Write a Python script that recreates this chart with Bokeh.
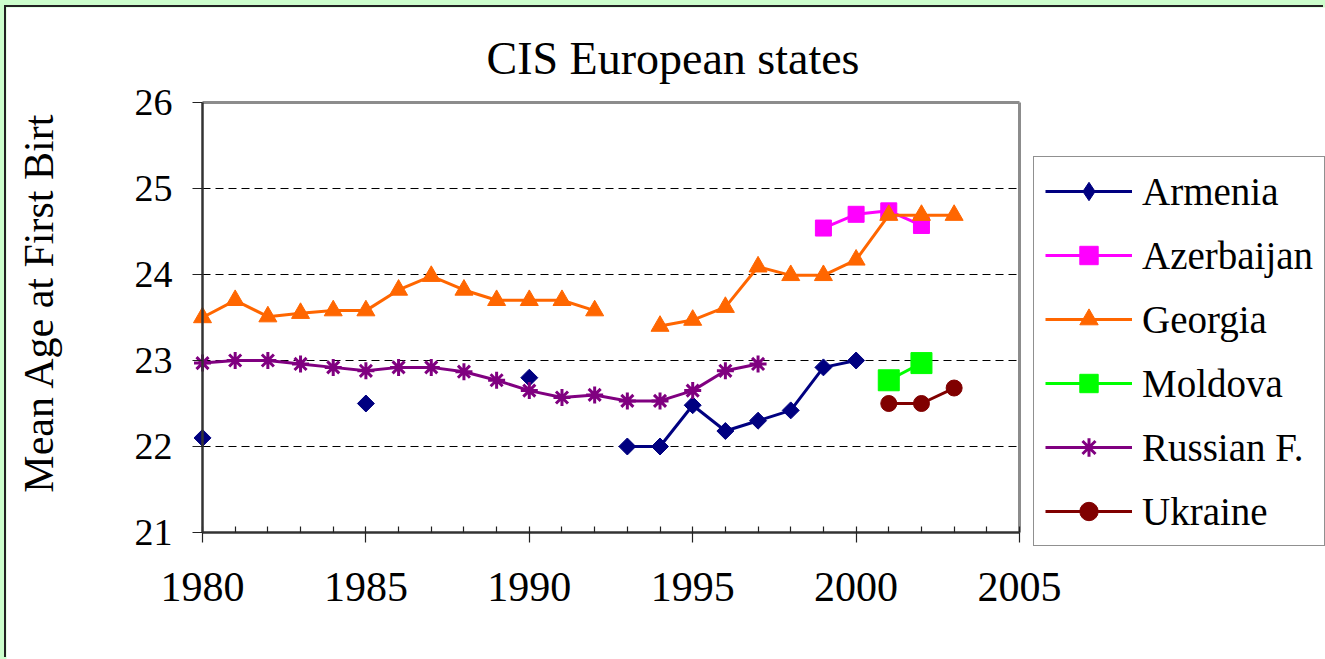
import math
from bokeh.plotting import figure
from bokeh.layouts import row
from bokeh.models import (Range1d, FixedTicker, Legend, LegendItem, ColumnDataSource,
                          LinearAxis, Label)
from bokeh.embed import file_html
from bokeh.resources import INLINE

nan = float("nan")

years = list(range(1980, 2004))
armenia = [22.1, nan, nan, nan, nan, 22.5, nan, nan, nan, nan, 22.8, nan, nan,
           22.0, 22.0, 22.48, 22.18, 22.3, 22.42, 22.92, 23.0, nan, nan, nan]
azerbaijan = [nan] * 19 + [24.54, 24.7, 24.74, 24.57, nan]
georgia = [23.5, 23.7, 23.51, 23.55, 23.58, 23.58, 23.82, 23.98, 23.82, 23.7, 23.7, 23.7, 23.58,
           nan, 23.4, 23.47, 23.62, 24.09, 23.99, 23.99, 24.17, 24.69, 24.69, 24.69]
moldova = [nan] * 21 + [22.77, 22.97, nan]
russia = [22.97, 23.0, 23.0, 22.96, 22.92, 22.88, 22.92, 22.92, 22.87, 22.77, 22.65, 22.57, 22.6,
          22.53, 22.53, 22.65, 22.88, 22.96, nan, nan, nan, nan, nan, nan]
ukraine = [nan] * 21 + [22.5, 22.5, 22.68]

series_names = ["Armenia", "Azerbaijan", "Georgia", "Moldova", "Russian F.", "Ukraine"]
series_values = [armenia, azerbaijan, georgia, moldova, russia, ukraine]
series_colors = ["#000080", "#FF00FF", "#FF6600", "#00FF00", "#800080", "#800000"]
series_markers = ["square", "square", "triangle", "square", "asterisk", "circle"]
series_sizes = [12, 16, 18, 21, 17, 16]
series_angles = [math.pi / 4, 0, 0, 0, 0, 0]

x_ticks = [1980, 1985, 1990, 1995, 2000, 2005]
x_minor = list(range(1980, 2006))
y_ticks = [21, 22, 23, 24, 25, 26]
grid_ticks = [22, 23, 24, 25]

TITLE = "CIS European states"
Y_TITLE = "Mean Age at First Birt"
FONT = "Liberation Serif"

# canvas geometry (pixels)
W, H = 1319, 652
X0_PX, X1_PX = 196, 1013      # where 1980 and 2005 fall
Y1_PX, Y0_PX = 95, 525        # where 26 and 21 fall
sx = (X1_PX - X0_PX) / (x_ticks[-1] - x_ticks[0])
sy = (Y0_PX - Y1_PX) / (y_ticks[-1] - y_ticks[0])

p = figure(width=W, height=H, output_backend="svg", toolbar_location=None,
           x_range=Range1d(x_ticks[0] - X0_PX / sx, x_ticks[0] + (W - X0_PX) / sx),
           y_range=Range1d(y_ticks[0] - (H - Y0_PX) / sy, y_ticks[-1] + Y1_PX / sy),
           min_border_left=0, min_border_right=0, min_border_top=0, min_border_bottom=0,
           border_fill_color="white", background_fill_color="white", outline_line_color=None)
p.margin = (7, 0, 0, 6)
p.styles = {"box-shadow": "-2px -2px 0 0 #222222"}
p.title.text = ""

# chart title
p.add_layout(Label(x=x_ticks[0] + (666.5 - X0_PX) / sx, y=y_ticks[-1] + (Y1_PX - 51) / sy,
                   text=TITLE, text_font=FONT, text_font_size="46px", text_color="black",
                   text_align="center", text_baseline="alphabetic"))

p.xgrid.visible = False
p.ygrid.visible = False

# dashed horizontal grid lines between the axes
p.segment(x0=[x_ticks[0]] * len(grid_ticks), x1=[x_ticks[-1]] * len(grid_ticks),
          y0=grid_ticks, y1=grid_ticks, line_color="black", line_width=1, line_dash="8 5")
# top and right frame borders
p.segment(x0=[x_ticks[0], x_ticks[-1]], x1=[x_ticks[-1], x_ticks[-1]],
          y0=[y_ticks[-1], y_ticks[0]], y1=[y_ticks[-1], y_ticks[-1]],
          line_color="#8c8c8c", line_width=3)

# x axis
xa = p.xaxis[0]
xa.fixed_location = y_ticks[0]
xa.bounds = (x_ticks[0], x_ticks[-1])
xa.ticker = FixedTicker(ticks=x_ticks, minor_ticks=x_minor)
xa.axis_line_color = "#333333"
xa.axis_line_width = 2.5
xa.major_tick_out = 10
xa.major_tick_in = 0
xa.minor_tick_in = 6
xa.minor_tick_out = 0
xa.major_tick_line_color = "#222222"
xa.minor_tick_line_color = "#222222"
xa.major_tick_line_width = 1.2
xa.minor_tick_line_width = 1.2
xa.major_label_text_font = FONT
xa.major_label_text_font_size = "42px"
xa.major_label_text_color = "black"
xa.major_label_standoff = 30

# y axis
ya = p.yaxis[0]
ya.fixed_location = x_ticks[0]
ya.bounds = (y_ticks[0], y_ticks[-1])
ya.ticker = FixedTicker(ticks=y_ticks)
ya.axis_line_color = "#333333"
ya.axis_line_width = 2.5
ya.major_tick_in = 0
ya.major_tick_out = 10
ya.minor_tick_line_color = None
ya.major_tick_line_color = "#222222"
ya.major_tick_line_width = 1.2
ya.major_label_text_font = FONT
ya.major_label_text_font_size = "38px"
ya.major_label_text_color = "black"
ya.major_label_standoff = 20

# y axis title (separate tick-less axis so it can sit where the reference has it)
label_center = 23.67
ytitle = LinearAxis(fixed_location=x_ticks[0], bounds=(label_center - 2, label_center + 2),
                    ticker=FixedTicker(ticks=[]), axis_line_color=None,
                    major_tick_line_color=None, minor_tick_line_color=None,
                    axis_label=Y_TITLE, axis_label_text_font=FONT,
                    axis_label_text_font_size="42px", axis_label_text_font_style="normal",
                    axis_label_text_color="black", axis_label_standoff=141)
p.add_layout(ytitle, "left")

items = []
for name, vals, color, marker, size, ang in zip(series_names, series_values, series_colors,
                                                 series_markers, series_sizes, series_angles):
    src = ColumnDataSource(dict(x=years, y=vals))
    ln = p.line("x", "y", source=src, line_color=color, line_width=3)
    sc = p.scatter("x", "y", source=src, marker=marker, size=size, angle=ang,
                   fill_color=color, line_color=color, line_width=3 if marker == "asterisk" else 1)
    if ang:
        # upright diamond used only as the legend swatch (its single point is NaN, so not drawn)
        sc = p.scatter(x=[nan], y=[nan], marker="diamond", size=21,
                       fill_color=color, line_color=color)
    items.append(LegendItem(label=name, renderers=[ln, sc]))

legend = Legend(items=items, location=(1027, 113), orientation="vertical",
                label_text_font=FONT, label_text_font_size="39px", label_text_color="black",
                glyph_width=87, glyph_height=46, label_height=46, label_standoff=10,
                spacing=18, padding=11, margin=0,
                border_line_color="#222222", border_line_width=1.5,
                background_fill_color="white", background_fill_alpha=1.0)
p.add_layout(legend)

layout = row(p, styles={"background-color": "#CCFFCC"})

open("out.html", "w").write(file_html(layout, INLINE))
